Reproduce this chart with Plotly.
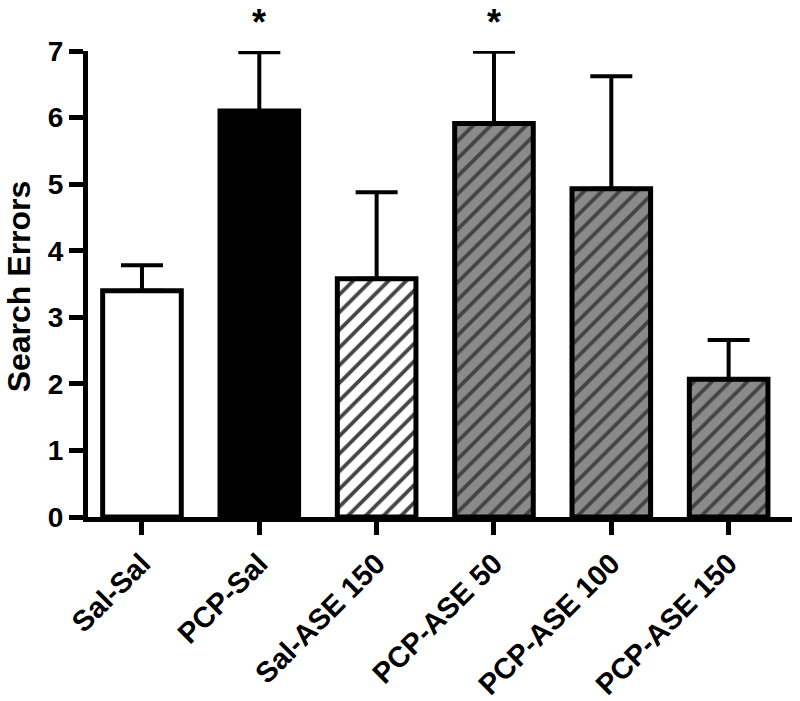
import plotly.graph_objects as go

categories = ["Sal-Sal", "PCP-Sal", "Sal-ASE 150", "PCP-ASE 50", "PCP-ASE 100", "PCP-ASE 150"]
means = [3.40, 6.10, 3.58, 5.91, 4.93, 2.07]
sem = [0.38, 0.88, 1.30, 1.08, 1.69, 0.59]
fill_colors = ["white", "black", "white", "#8a8a8a", "#8a8a8a", "#8a8a8a"]
hatch = ["", "", "/", "/", "/", "/"]
significant = ["PCP-Sal", "PCP-ASE 50"]
y_ticks = [0, 1, 2, 3, 4, 5, 6, 7]

FONT = "Liberation Sans, Arial, Helvetica, sans-serif"

fig = go.Figure()
fig.add_trace(go.Bar(
    x=categories,
    y=means,
    width=0.67,
    marker=dict(
        color=fill_colors,
        line=dict(color="black", width=5),
        pattern=dict(shape=hatch, fgcolor="black", fgopacity=1,
                     size=12.5, solidity=0.3, fillmode="overlay"),
    ),
    error_y=dict(type="data", symmetric=False, array=sem,
                 arrayminus=[0] * len(sem), color="black",
                 thickness=4, width=21),
    showlegend=False,
))

for cat in significant:
    fig.add_annotation(x=cat, y=1.062, xref="x", yref="paper", text="<b>*</b>",
                       showarrow=False, font=dict(size=36, color="black", family=FONT),
                       xanchor="center", yanchor="middle")

fig.add_annotation(x=-0.098, y=0.495, xref="paper", yref="paper",
                   text="<b>Search Errors</b>", textangle=-90, showarrow=False,
                   font=dict(size=32, color="black", family=FONT),
                   xanchor="center", yanchor="middle")

fig.update_layout(
    width=800, height=701,
    margin=dict(l=88, r=8, t=50.5, b=184, autoexpand=False),
    paper_bgcolor="white", plot_bgcolor="white",
    font=dict(family=FONT, color="black"),
)
fig.update_xaxes(
    type="category", range=[-0.46, 5.54], automargin=False,
    showline=True, linecolor="black", linewidth=5,
    ticks="outside", ticklen=13, tickwidth=5, tickcolor="black",
    tickangle=-45, showgrid=False, zeroline=False,
    tickfont=dict(size=29, family=FONT, color="black", weight="bold"),
)
fig.update_yaxes(
    range=[0, 7], tickvals=y_ticks, automargin=False,
    showline=True, linecolor="black", linewidth=5,
    ticks="outside", ticklen=14, tickwidth=5, tickcolor="black",
    showgrid=False, zeroline=False,
    tickfont=dict(size=28, family=FONT, color="black", weight="bold"),
)

fig.write_html("out.html", config={"displayModeBar": False},
               post_script="document.body.style.margin='0';")
